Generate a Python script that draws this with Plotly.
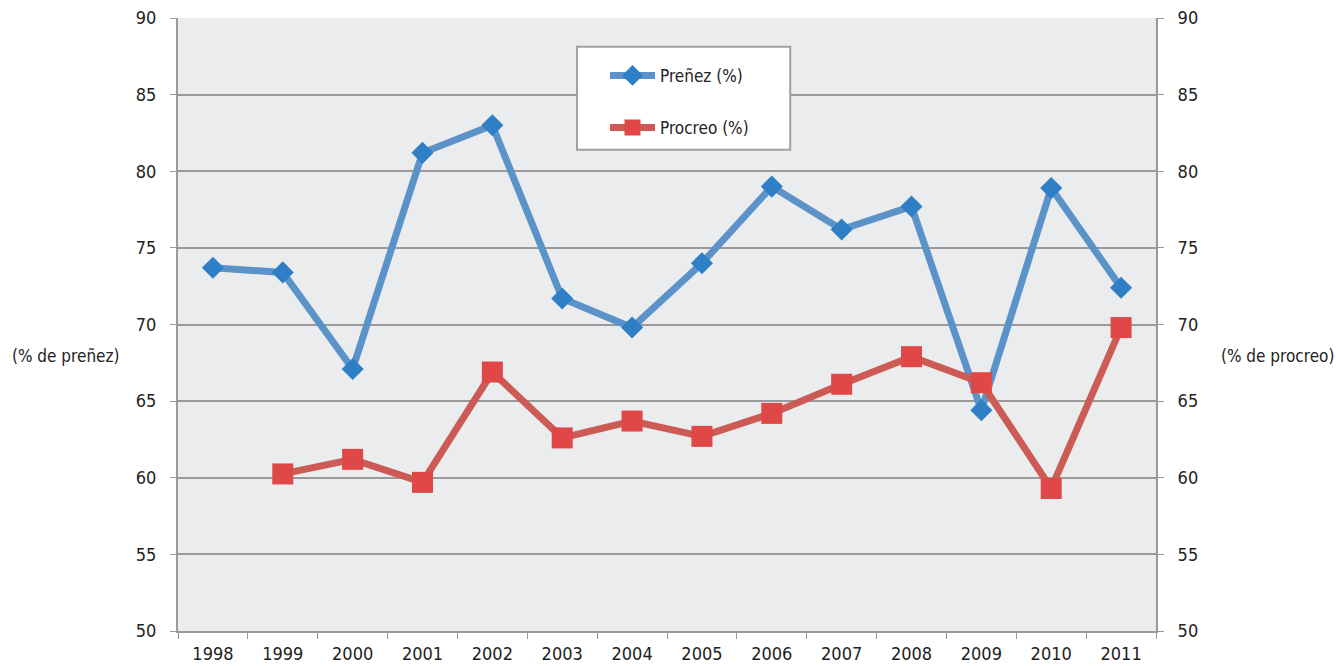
import plotly.graph_objects as go

years = ["1998", "1999", "2000", "2001", "2002", "2003", "2004", "2005", "2006", "2007", "2008", "2009", "2010", "2011"]
prenez = [73.7, 73.4, 67.1, 81.2, 83.0, 71.7, 69.8, 74.0, 79.0, 76.2, 77.7, 64.4, 78.9, 72.4]
procreo = [None, 60.25, 61.2, 59.7, 66.9, 62.6, 63.7, 62.7, 64.2, 66.1, 67.9, 66.2, 59.3, 69.8]
yticks = [50, 55, 60, 65, 70, 75, 80, 85, 90]

FONT = "DejaVu Sans Condensed, Liberation Sans Narrow, Arial Narrow, sans-serif"
TXT = dict(family=FONT, size=17, color="#222")
TICK = dict(family=FONT, size=18, color="#222")

fig = go.Figure()
fig.add_trace(go.Scatter(
    x=years, y=prenez, name="Preñez (%)", mode="lines+markers", legendgroup="a",
    line=dict(color="#5b93c9", width=7),
    marker=dict(symbol="diamond", size=17, color="#2f7fc6"),
))
fig.add_trace(go.Scatter(
    x=years, y=procreo, name="Procreo (%)", mode="lines+markers", yaxis="y2", legendgroup="b",
    line=dict(color="#cd5b55", width=7),
    marker=dict(symbol="square", size=21, color="#e04747"),
))

axis_common = dict(
    range=[50, 90], tickvals=yticks, ticks="outside", ticklen=6, tickcolor="#9a9a9a",
    showline=True, linecolor="#9a9a9a", linewidth=2, automargin=False,
    tickfont=TICK, ticklabelstandoff=10,
)
fig.update_layout(
    width=1336, height=666,
    margin=dict(l=178, r=180, t=18, b=35, autoexpand=False),
    paper_bgcolor="white", plot_bgcolor="#ebecee",
    font=TXT,
    xaxis=dict(type="category", range=[-0.5, len(years) - 0.5], tickson="boundaries",
               ticks="outside", ticklen=6,
               tickcolor="#9a9a9a", showline=True, linecolor="#9a9a9a", linewidth=2,
               showgrid=False, tickfont=TICK, automargin=False, ticklabelstandoff=5),
    yaxis=dict(**axis_common, showgrid=True, gridcolor="#9a9a9a", gridwidth=2, zeroline=False),
    yaxis2=dict(**axis_common, overlaying="y", side="right", showgrid=False, zeroline=False),
    showlegend=True,
    legend=dict(x=0.4366, y=0.935, xanchor="left", yanchor="top",
                bgcolor="rgba(0,0,0,0)", borderwidth=0,
                font=TXT, itemwidth=45, tracegroupgap=27),
    shapes=[dict(type="rect", xref="paper", yref="paper", x0=0.408, x1=0.626,
                 y0=0.785, y1=0.953, fillcolor="white",
                 line=dict(color="#a0a0a0", width=2), layer="above")],
    annotations=[
        dict(text="(% de preñez)", xref="paper", yref="paper", x=-0.172, y=0.448,
             xanchor="left", yanchor="middle", showarrow=False, font=TXT),
        dict(text="(% de procreo)", xref="paper", yref="paper", x=1.064, y=0.448,
             xanchor="left", yanchor="middle", showarrow=False, font=TXT),
    ],
)

fig.write_html("out.html", config={"displayModeBar": False},
               post_script="document.body.style.margin='0';document.body.style.overflow='hidden';")
